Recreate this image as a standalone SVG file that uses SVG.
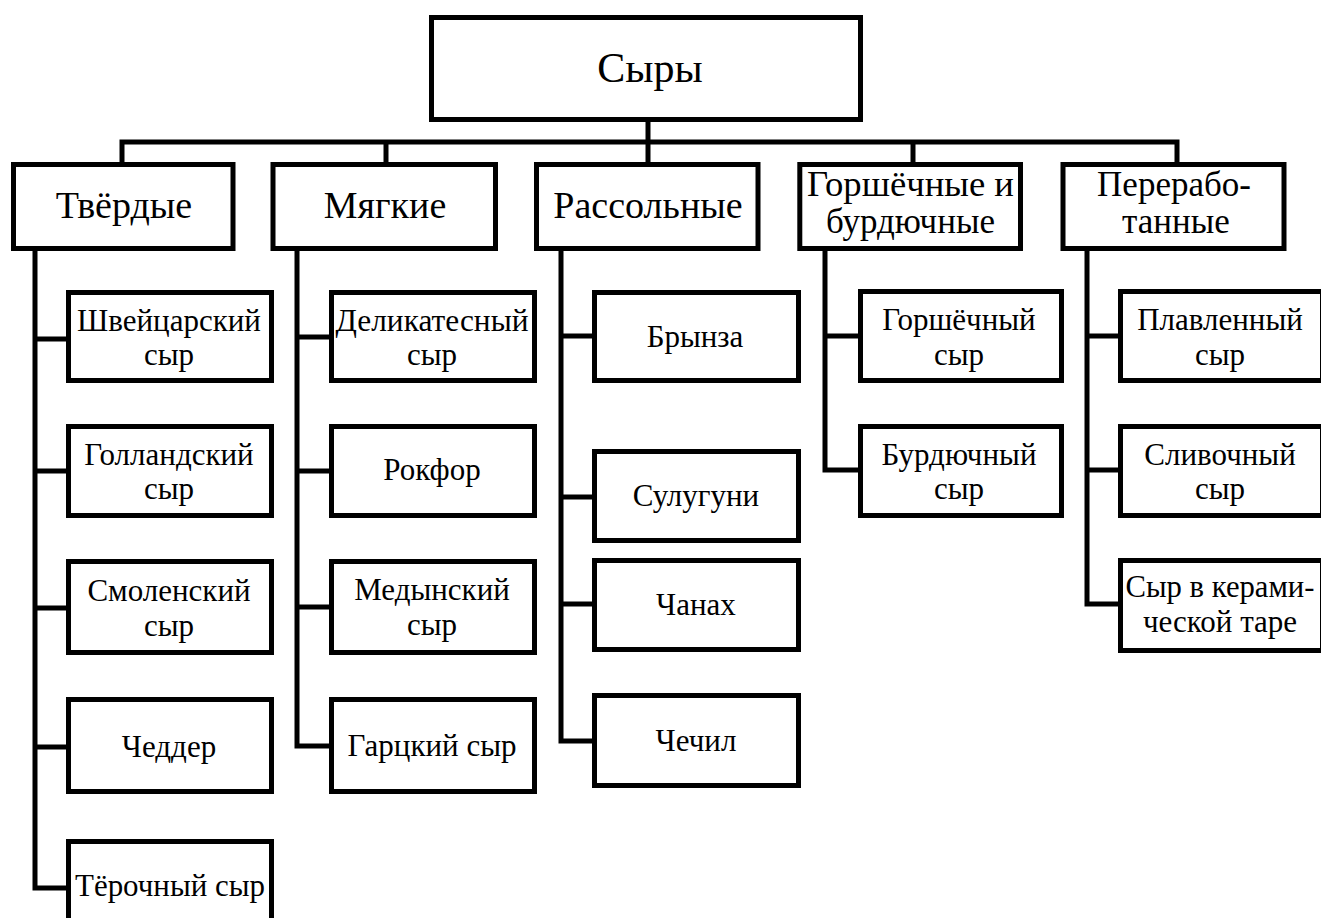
<svg xmlns="http://www.w3.org/2000/svg" width="1321" height="918" viewBox="0 0 1321 918">
<style>
.box{fill:#fff;stroke:#000;stroke-width:5;stroke-linejoin:miter}
.ln{fill:none;stroke:#000;stroke-width:5;stroke-linejoin:miter;stroke-linecap:butt}
text{font-family:'Liberation Serif',Tinos,'Times New Roman','DejaVu Serif',serif;font-weight:normal;fill:#000;text-anchor:middle}
.t0{font-size:42px}
.t1{font-size:38px}
.t1b{font-size:35px}
.t2{font-size:31px}
</style>
<rect width="1321" height="918" fill="#fff"/>
<g id="connectors">
<path class="ln" d="M648,120 V164"/>
<path class="ln" d="M122,164 V142 H1177 V164"/>
<path class="ln" d="M386,142 V164"/>
<path class="ln" d="M913,142 V164"/>
<path class="ln" d="M35,249 V888 H68"/>
<path class="ln" d="M35,339 H68 M35,471 H68 M35,608 H68 M35,747 H68"/>
<path class="ln" d="M297,249 V746 H331"/>
<path class="ln" d="M297,337 H331 M297,471 H331 M297,607 H331"/>
<path class="ln" d="M561,249 V741 H594"/>
<path class="ln" d="M561,336 H594 M561,497 H594 M561,604 H594"/>
<path class="ln" d="M825,249 V470 H860"/>
<path class="ln" d="M825,336 H860"/>
<path class="ln" d="M1087,249 V604 H1120"/>
<path class="ln" d="M1087,336 H1120 M1087,470 H1120"/>
</g>
<g id="root"><rect class="box" x="431.5" y="17.5" width="429" height="102"/><text class="t0" x="650" y="82" font-family="Liberation Serif, serif">Сыры</text></g>
<g id="cat-hard"><rect class="box" x="13.5" y="164.5" width="219.5" height="84"/><text class="t1" x="124" y="218">Твёрдые</text></g>
<g id="cat-soft"><rect class="box" x="273" y="164.5" width="222.5" height="84"/><text class="t1" x="385" y="218">Мягкие</text></g>
<g id="cat-brine"><rect class="box" x="536.5" y="164.5" width="221.5" height="84"/><text class="t1" x="648" y="218">Рассольные</text></g>
<g id="cat-pot"><rect class="box" x="799.8" y="164.5" width="220.7" height="84"/><text class="t1b" x="910.5" y="196" textLength="207" lengthAdjust="spacingAndGlyphs">Горшёчные и</text><text class="t1b" x="910.5" y="233">бурдючные</text></g>
<g id="cat-proc"><rect class="box" x="1063" y="164.5" width="221" height="84"/><text class="t1b" x="1174" y="196">Перерабо-</text><text class="t1b" x="1176" y="233">танные</text></g>
<g id="n-swiss"><rect class="box" x="68.5" y="292.5" width="203" height="88"/><text class="t2" x="169" y="331">Швейцарский</text><text class="t2" x="169" y="365">сыр</text></g>
<g id="n-dutch"><rect class="box" x="68.5" y="426.5" width="203" height="89"/><text class="t2" x="169" y="465">Голландский</text><text class="t2" x="169" y="499">сыр</text></g>
<g id="n-smol"><rect class="box" x="68.5" y="561.5" width="203" height="91"/><text class="t2" x="169" y="601">Смоленский</text><text class="t2" x="169" y="636">сыр</text></g>
<g id="n-cheddar"><rect class="box" x="68.5" y="699.5" width="203" height="92"/><text class="t2" x="169" y="757">Чеддер</text></g>
<g id="n-grate"><rect class="box" x="68.5" y="841.5" width="203" height="92"/><text class="t2" x="170" y="896" textLength="190" lengthAdjust="spacingAndGlyphs">Тёрочный сыр</text></g>
<g id="n-deli"><rect class="box" x="331.5" y="292.5" width="203" height="88"/><text class="t2" x="432" y="331" textLength="193" lengthAdjust="spacingAndGlyphs">Деликатесный</text><text class="t2" x="432" y="365">сыр</text></g>
<g id="n-roq"><rect class="box" x="331.5" y="426.5" width="203" height="89"/><text class="t2" x="432" y="480">Рокфор</text></g>
<g id="n-med"><rect class="box" x="331.5" y="561.5" width="203" height="91"/><text class="t2" x="432" y="600">Медынский</text><text class="t2" x="432" y="635">сыр</text></g>
<g id="n-harz"><rect class="box" x="331.5" y="699.5" width="203" height="92"/><text class="t2" x="432" y="756">Гарцкий сыр</text></g>
<g id="n-bryn"><rect class="box" x="594.5" y="292.5" width="204" height="88"/><text class="t2" x="695" y="347">Брынза</text></g>
<g id="n-sulu"><rect class="box" x="594.5" y="451.5" width="204" height="89"/><text class="t2" x="696" y="506">Сулугуни</text></g>
<g id="n-chan"><rect class="box" x="594.5" y="560.5" width="204" height="89"/><text class="t2" x="696" y="615">Чанах</text></g>
<g id="n-chech"><rect class="box" x="594.5" y="695.5" width="204" height="90"/><text class="t2" x="696" y="751">Чечил</text></g>
<g id="n-pot"><rect class="box" x="860.5" y="291.5" width="201" height="89"/><text class="t2" x="959" y="330">Горшёчный</text><text class="t2" x="959" y="365">сыр</text></g>
<g id="n-skin"><rect class="box" x="860.5" y="426.5" width="201" height="89"/><text class="t2" x="959" y="465">Бурдючный</text><text class="t2" x="959" y="499">сыр</text></g>
<g id="n-melt"><rect class="box" x="1120.5" y="291.5" width="202" height="89"/><text class="t2" x="1220" y="330">Плавленный</text><text class="t2" x="1220" y="365">сыр</text></g>
<g id="n-cream"><rect class="box" x="1120.5" y="426.5" width="202" height="89"/><text class="t2" x="1220" y="465">Сливочный</text><text class="t2" x="1220" y="499">сыр</text></g>
<g id="n-ceram"><rect class="box" x="1120.5" y="560.5" width="202" height="90"/><text class="t2" x="1220" y="597" textLength="189" lengthAdjust="spacingAndGlyphs">Сыр в керами-</text><text class="t2" x="1220" y="632">ческой таре</text></g>
</svg>
